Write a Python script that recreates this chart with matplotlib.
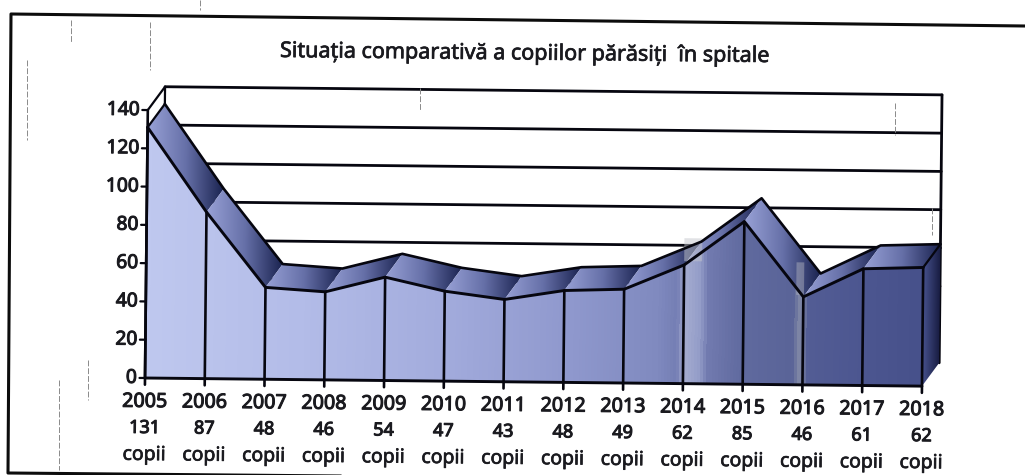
import matplotlib
matplotlib.use("Agg")
import matplotlib.patheffects as pe
import matplotlib.pyplot as plt
import numpy as np
from matplotlib.colors import LinearSegmentedColormap
from matplotlib.lines import Line2D
from matplotlib.patches import Polygon, Rectangle
from matplotlib.transforms import Affine2D

years = [2005, 2006, 2007, 2008, 2009, 2010, 2011, 2012, 2013, 2014, 2015, 2016, 2017, 2018]
values = [131, 87, 48, 46, 54, 47, 43, 48, 49, 62, 85, 46, 61, 62]
y_ticks = [0, 20, 40, 60, 80, 100, 120, 140]
title = "Situația comparativă a copiilor părăsiți  în spitale"
unit = "copii"

W, H = 1025, 475
X0, Y0 = 145, 378  # pixel of (2005, 0)
STEP_X = 59.77
STEP_Y = 1.914
DEPTH_X = 17 / STEP_X
DEPTH_Y = 23.5 / STEP_Y
LINE = "#06060f"
TEXT = "#1a1a1f"

plt.rcParams["font.family"] = ["Noto Sans", "DejaVu Sans"]

fig = plt.figure(figsize=(W / 100, H / 100), dpi=100)
ax = fig.add_axes([0, 0, 1, 1])
ax.set_xlim(-X0 / STEP_X, (W - X0) / STEP_X)
ax.set_ylim((Y0 - H) / STEP_Y, Y0 / STEP_Y)
ax.axis("off")

# the page was scanned slightly crooked
tilt = Affine2D().rotate_deg_around(X0, H - Y0, -0.6)
tr = ax.transData + tilt
xs = np.arange(len(years))
last = xs[-1]
# the installed Noto Sans only gives a regular weight here, so thicken it
heavy = [pe.withStroke(linewidth=0.75, foreground=TEXT)]
medium = [pe.withStroke(linewidth=0.5, foreground=TEXT)]


def gradient(points, stops, zorder):
    pts = np.array(points)
    cmap = LinearSegmentedColormap.from_list("g", stops)
    im = ax.imshow(
        np.linspace(0, 1, 256).reshape(1, -1), cmap=cmap, vmin=0, vmax=1, aspect="auto",
        origin="lower", interpolation="bilinear",
        extent=(pts[:, 0].min(), pts[:, 0].max(), pts[:, 1].min(), pts[:, 1].max()),
        transform=tr, zorder=zorder,
    )
    clip = Polygon(pts, closed=True, transform=tr, fill=False, edgecolor="none")
    ax.add_patch(clip)
    im.set_clip_path(clip)


def line(x, y, lw=1.9, zorder=5, color=LINE):
    ax.add_line(Line2D(x, y, transform=tr, color=color, lw=lw, zorder=zorder, solid_capstyle="round"))


# back wall with grid
for t in y_ticks[1:]:
    line([DEPTH_X, last + DEPTH_X], [t + DEPTH_Y, t + DEPTH_Y], lw=2.0, zorder=1)
line([DEPTH_X, 0], [140 + DEPTH_Y, 140], lw=1.6, zorder=1)
line([DEPTH_X, DEPTH_X], [140 + DEPTH_Y, 100], lw=1.6, zorder=1)
line([last + DEPTH_X, last + DEPTH_X], [DEPTH_Y, 140 + DEPTH_Y], lw=2.0, zorder=1)

# front face, light on the left and dark on the right, with the scanner streaks
front = [(0, 0)] + list(zip(xs, values)) + [(last, 0)]
front_stops = [
    (0.00, "#bfc8ef"), (0.20, "#b3bce8"), (0.38, "#a3acdd"), (0.55, "#8f98cd"), (0.66, "#808abf"),
    (0.685, "#747eb4"), (0.695, "#a5acd0"), (0.715, "#939cc8"), (0.725, "#727bb0"), (0.77, "#606a9f"),
    (0.835, "#5a6498"), (0.845, "#868da8"), (0.855, "#535d95"), (0.93, "#4c5690"), (1.00, "#47518b"),
]
gradient(front, front_stops, 2)

# top strips, one gradient per segment
for i in xs[:-1]:
    v0, v1 = values[i], values[i + 1]
    strip = [(i, v0), (i + 1, v1), (i + 1 + DEPTH_X, v1 + DEPTH_Y), (i + DEPTH_X, v0 + DEPTH_Y)]
    gradient(strip, ["#98a1d6", "#6670a8", "#19224f"], 3)

# right end
end = [(last, 0), (last + DEPTH_X, DEPTH_Y), (last + DEPTH_X, values[-1] + DEPTH_Y), (last, values[-1])]
gradient(end, ["#47528e", "#171b40"], 3)

# outlines
line(xs, values, lw=2.1)
line(xs + DEPTH_X, np.array(values) + DEPTH_Y, lw=1.9)
for x, v in zip(xs, values):
    line([x, x], [-3.5, v], lw=1.9)
line([0, DEPTH_X], [values[0], values[0] + DEPTH_Y], lw=1.6)
line([last, last + DEPTH_X], [values[-1], values[-1] + DEPTH_Y], lw=1.6)

# pale scanner bands over the strips
for bx, bw, b0, b1, alpha in [(9.0, 0.3, 64, 76, 0.5), (10.88, 0.13, 47, 64, 0.4)]:
    ax.add_patch(Rectangle((bx, b0), bw, b1 - b0, transform=tr, facecolor="#c4c6cc", edgecolor="none",
                           alpha=alpha, zorder=4))

# axes
line([0, last], [0, 0], lw=2.1)
line([0, 0], [0, 140], lw=1.9)
for t in y_ticks:
    line([-5.5 / STEP_X, 0], [t, t], lw=1.6)
    ax.text(-8 / STEP_X, t, str(t), transform=tr, ha="right", va="center", fontsize=13.8,
            color=TEXT, rotation=-0.6, zorder=6, path_effects=heavy)

for x, year, v in zip(xs, years, values):
    ax.text(x, -24 / STEP_Y, str(year), transform=tr, ha="center", va="center", fontsize=14.2,
            color=TEXT, rotation=-0.6, zorder=6, path_effects=heavy)
    ax.text(x, -50 / STEP_Y, str(v), transform=tr, ha="center", va="center", fontsize=13,
            color=TEXT, rotation=-0.6, zorder=6, path_effects=heavy)
    ax.text(x, -77 / STEP_Y, unit, transform=tr, ha="center", va="center", fontsize=14,
            color=TEXT, rotation=-0.6, zorder=6, path_effects=medium)

fig.text(525 / W, 1 - 54 / H, title, ha="center", va="center", fontsize=15.5, color=TEXT,
         rotation=-0.6, path_effects=medium)

# outer frame, in pixels of the page
frame_x = [1025, 11, 8, 340]
frame_y = [26, 14, 473, 476]
fig.add_artist(Line2D(np.array(frame_x) / W, 1 - np.array(frame_y) / H, color="#0c0c0c", lw=2.2))

# scanner specks
specks = [(27, 60, 140), (71, 20, 42), (150, 22, 70), (200, 0, 10), (59, 380, 470), (88, 360, 400),
          (895, 103, 135), (932, 208, 235), (420, 88, 110)]
for sx, s0, s1 in specks:
    fig.add_artist(Line2D([sx / W, sx / W], [1 - s0 / H, 1 - s1 / H], color="#8a8a8a", lw=0.7, ls=(0, (6, 2))))

fig.savefig("out.png", dpi=100)
plt.close(fig)
